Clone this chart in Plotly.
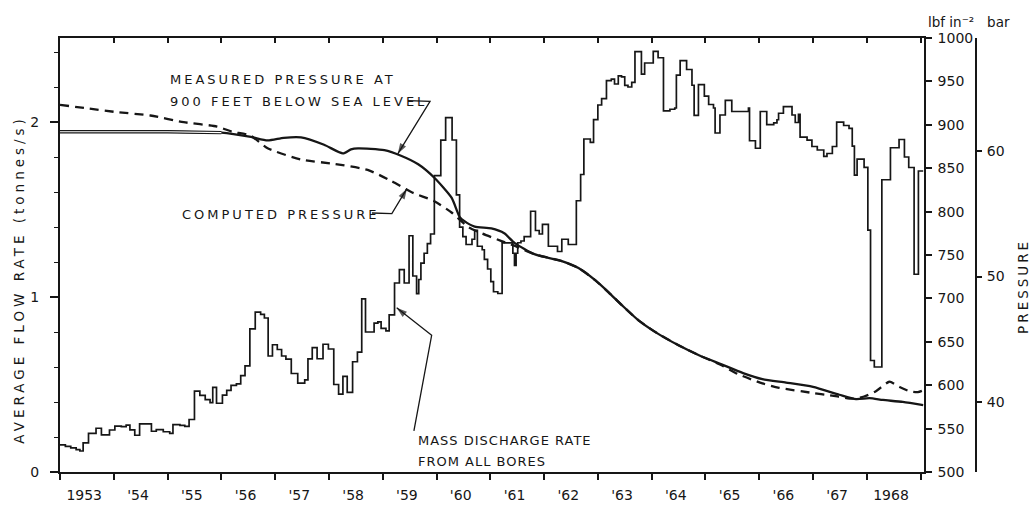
import plotly.graph_objects as go

# Mass discharge rate from all bores (tonnes/s); each value holds until the next date
flow_year = [
    1953.00, 1953.10, 1953.20, 1953.30, 1953.37, 1953.43, 1953.53, 1953.67, 1953.77, 1953.92,
    1954.02, 1954.14, 1954.23, 1954.30, 1954.39, 1954.48, 1954.70, 1954.79, 1954.92,
    1955.04, 1955.10, 1955.23, 1955.32, 1955.40, 1955.50, 1955.60, 1955.70, 1955.79, 1955.84, 1955.91,
    1956.02, 1956.10, 1956.18, 1956.28, 1956.36, 1956.44, 1956.53, 1956.63, 1956.73, 1956.80, 1956.87, 1956.95,
    1957.04, 1957.12, 1957.20, 1957.30, 1957.42, 1957.55, 1957.61, 1957.69, 1957.78, 1957.89, 1957.99,
    1958.09, 1958.18, 1958.26, 1958.34, 1958.44, 1958.53, 1958.61, 1958.68, 1958.84, 1958.91, 1958.97,
    1959.06, 1959.12, 1959.22, 1959.31, 1959.40, 1959.49, 1959.56, 1959.63, 1959.67, 1959.71, 1959.77,
    1959.83, 1959.89, 1959.96,
    1960.08, 1960.17, 1960.29, 1960.37, 1960.43, 1960.49, 1960.55, 1960.66, 1960.71, 1960.76, 1960.85,
    1960.89, 1960.95,
    1961.01, 1961.06, 1961.14, 1961.22, 1961.42, 1961.45, 1961.48, 1961.51, 1961.57, 1961.63, 1961.75,
    1961.84, 1961.91, 1961.97,
    1962.08, 1962.25, 1962.33, 1962.45, 1962.60, 1962.68, 1962.74, 1962.86, 1962.92,
    1963.00, 1963.07, 1963.16, 1963.25, 1963.31, 1963.38, 1963.44, 1963.50, 1963.56, 1963.63, 1963.69,
    1963.81, 1963.87,
    1964.03, 1964.12, 1964.22, 1964.34, 1964.43, 1964.46, 1964.53, 1964.65, 1964.75, 1964.79, 1964.87,
    1964.98, 1965.06, 1965.15, 1965.18, 1965.27, 1965.37, 1965.49, 1965.80, 1965.82, 1965.93,
    1966.02, 1966.14, 1966.27, 1966.33, 1966.36, 1966.45, 1966.61, 1966.67, 1966.73, 1966.76, 1966.89,
    1966.98, 1967.08, 1967.20, 1967.26, 1967.36, 1967.44, 1967.57, 1967.67, 1967.73, 1967.77, 1967.82,
    1967.95, 1968.02, 1968.07, 1968.14, 1968.28, 1968.44, 1968.60, 1968.70, 1968.78, 1968.88, 1968.96,
    1969.05,
]
flow_rate = [
    0.155, 0.147, 0.138, 0.128, 0.120, 0.167, 0.221, 0.250, 0.212, 0.240,
    0.262, 0.259, 0.268, 0.241, 0.210, 0.275, 0.233, 0.242, 0.230,
    0.221, 0.271, 0.266, 0.261, 0.300, 0.462, 0.438, 0.414, 0.396, 0.484, 0.393,
    0.439, 0.467, 0.495, 0.504, 0.551, 0.606, 0.818, 0.914, 0.901, 0.880, 0.663, 0.727,
    0.700, 0.663, 0.645, 0.563, 0.508, 0.526, 0.646, 0.711, 0.647, 0.730, 0.703,
    0.500, 0.445, 0.546, 0.455, 0.630, 0.685, 0.989, 0.800, 0.851, 0.858, 0.821,
    0.806, 0.898, 1.080, 1.157, 1.080, 1.350, 1.120, 1.019, 1.100, 1.194, 1.250,
    1.305, 1.360, 1.693,
    1.896, 2.025, 1.897, 1.584, 1.399, 1.345, 1.300, 1.330, 1.381, 1.290, 1.270,
    1.215, 1.160,
    1.088, 1.030, 1.020, 1.309, 1.250, 1.180, 1.250, 1.310, 1.320, 1.345, 1.490,
    1.380, 1.360, 1.415,
    1.290, 1.260, 1.330, 1.300, 1.550, 1.700, 1.903, 1.884, 2.014,
    2.097, 2.134, 2.236, 2.245, 2.217, 2.264, 2.258, 2.209, 2.200, 2.227, 2.402,
    2.273, 2.337,
    2.404, 2.367, 2.063, 2.073, 2.080, 2.268, 2.351, 2.300, 2.210, 2.038, 2.214,
    2.148, 2.100, 2.080, 1.937, 2.040, 2.124, 2.060, 2.080, 1.893, 1.850,
    2.060, 1.985, 1.995, 2.013, 2.050, 2.088, 2.040, 1.997, 2.043, 1.914, 1.896,
    1.860, 1.840, 1.804, 1.820, 1.860, 1.999, 1.980, 1.963, 1.862, 1.696, 1.788,
    1.741, 1.382, 0.637, 0.600, 1.670, 1.853, 1.900, 1.800, 1.740, 1.130, 1.720,
    1.720,
]

# Measured pressure at 900 feet below sea level (lbf/in^2)
meas_year = [
    1953.00, 1955.00, 1956.00, 1956.55, 1956.86, 1957.16, 1957.48, 1957.91, 1958.26, 1958.41,
    1958.54, 1959.03, 1959.34, 1959.66, 1959.96, 1960.28, 1960.43, 1960.52, 1960.71, 1961.02,
    1961.26, 1961.45, 1961.82, 1962.33, 1962.64, 1962.95, 1963.20, 1963.45, 1963.75, 1964.10,
    1964.50, 1964.90, 1965.30, 1965.70, 1966.06, 1966.50, 1967.00, 1967.49, 1967.80, 1968.05,
    1968.30, 1968.67, 1969.05,
]
meas_psi = [
    892, 892, 891, 886, 882, 885, 885.5, 877, 867, 871.6,
    872.8, 870.8, 864.4, 854.5, 839, 816, 794, 789, 782.6, 780.6,
    775, 764, 751, 743, 735, 721, 707, 692, 675, 660,
    646, 634, 624, 614, 607, 603, 598, 589, 584, 585,
    583, 580.7, 577,
]

# Computed pressure (lbf/in^2)
comp_year = [
    1953.00, 1953.50, 1954.00, 1954.68, 1955.30, 1955.92, 1956.20, 1956.54, 1956.86, 1957.48,
    1958.10, 1958.72, 1959.16, 1959.53, 1959.96, 1960.28, 1960.59, 1960.84, 1961.21, 1961.46,
    1961.82, 1962.33, 1962.64, 1962.95, 1963.20, 1963.45, 1963.75, 1964.10, 1964.50, 1964.90,
    1965.30, 1965.60, 1966.06, 1966.37, 1967.00, 1967.31, 1967.74, 1967.95, 1968.17, 1968.42,
    1968.61, 1968.80, 1968.95, 1969.05,
]
comp_psi = [
    923, 919, 915, 910.7, 903, 898, 892, 887.6, 873, 860,
    855, 848, 835.3, 822.5, 812, 799, 782.3, 775, 766, 760.5,
    751, 743, 735, 721, 707, 692, 675, 660, 646, 634,
    623, 613, 602, 597, 591, 588.4, 584.5, 587, 593, 604,
    598, 593, 592, 594,
]

years = list(range(1953, 1969))
year_labels = ["1953", "'54", "'55", "'56", "'57", "'58", "'59", "'60",
               "'61", "'62", "'63", "'64", "'65", "'66", "'67", "1968"]

INK = "#161616"
FONT = "DejaVu Sans"
X_RANGE = [1953.0, 1969.06]
N_DOUBLE = 3  # early flat readings drawn as a double (outlined) line


def spaced(text, ls=3):
    return f'<span style="letter-spacing:{ls}px">{text}</span>'


fig = go.Figure()

fig.add_trace(go.Scatter(
    x=flow_year, y=flow_rate, mode="lines", yaxis="y",
    line=dict(shape="hv", color=INK, width=1.7), showlegend=False, hoverinfo="skip",
))
fig.add_trace(go.Scatter(
    x=meas_year, y=meas_psi, mode="lines", yaxis="y2",
    line=dict(shape="spline", smoothing=0.6, color=INK, width=2.3), showlegend=False,
    hoverinfo="skip",
))
# double-line look of the early measured record
fig.add_trace(go.Scatter(
    x=meas_year[:N_DOUBLE], y=meas_psi[:N_DOUBLE], mode="lines", yaxis="y2",
    line=dict(color=INK, width=3.4), showlegend=False, hoverinfo="skip",
))
fig.add_trace(go.Scatter(
    x=meas_year[:N_DOUBLE], y=meas_psi[:N_DOUBLE], mode="lines", yaxis="y2",
    line=dict(color="white", width=1.1), showlegend=False, hoverinfo="skip",
))
fig.add_trace(go.Scatter(
    x=comp_year, y=comp_psi, mode="lines", yaxis="y2",
    line=dict(shape="spline", smoothing=0.6, color=INK, width=2.3, dash="9px,6px"),
    showlegend=False, hoverinfo="skip",
))

# leader lines ending in arrowheads (flow-axis units), one per label
leaders = [
    [(1959.47, 2.122), (1959.88, 2.118), (1959.28, 1.818)],
    [(1958.80, 1.480), (1959.17, 1.476), (1959.45, 1.619)],
    [(1959.58, 0.235), (1959.91, 0.781), (1959.26, 0.939)],
]
for path in leaders:
    xs = [p[0] for p in path]
    ys = [p[1] for p in path]
    sizes = [0] * (len(path) - 1) + [11]
    fig.add_trace(go.Scatter(
        x=xs, y=ys, mode="lines+markers", yaxis="y",
        line=dict(color=INK, width=1.3),
        marker=dict(symbol="arrow", angleref="previous", size=sizes, color=INK,
                    line=dict(width=0)),
        showlegend=False, hoverinfo="skip",
    ))

tick_font = dict(family=FONT, size=14, color=INK)

fig.update_layout(
    width=1034, height=515, autosize=False,
    margin=dict(l=60, r=58, t=38, b=28),
    paper_bgcolor="white", plot_bgcolor="white",
    font=dict(family=FONT, color=INK),
    xaxis=dict(
        domain=[0, 0.943], range=X_RANGE,
        tickmode="array", tickvals=[y + 0.45 for y in years], ticktext=year_labels,
        ticks="", ticklabelstandoff=9, tickfont=tick_font,
        minor=dict(tickmode="array", tickvals=years + [1969], ticks="outside",
                   ticklen=6, tickwidth=1.5, tickcolor=INK),
        showline=True, linecolor=INK, linewidth=2, showgrid=False, zeroline=False,
    ),
    xaxis2=dict(
        overlaying="x", side="top", anchor="y", range=X_RANGE,
        tickmode="array", tickvals=years + [1969], ticks="inside", ticklen=5,
        tickwidth=1.5, tickcolor=INK, showticklabels=False,
        showline=True, linecolor=INK, linewidth=1.6, showgrid=False, zeroline=False,
    ),
    yaxis=dict(
        range=[0, 2.48], tickmode="array", tickvals=[0, 1, 2],
        ticks="outside", ticklen=8, tickwidth=1.6, tickcolor=INK,
        ticklabelstandoff=8, tickfont=tick_font,
        minor=dict(tickmode="linear", tick0=0, dtick=0.2, ticks="outside",
                   ticklen=4, tickwidth=1.3, tickcolor=INK),
        showline=True, linecolor=INK, linewidth=2.2, showgrid=False, zeroline=False,
    ),
    yaxis2=dict(
        overlaying="y", side="right", anchor="x", range=[500, 1000],
        tickmode="linear", tick0=500, dtick=50,
        ticks="outside", ticklen=6, tickwidth=1.5, tickcolor=INK,
        ticklabelstandoff=3, tickfont=tick_font,
        showline=True, linecolor=INK, linewidth=2, showgrid=False, zeroline=False,
    ),
    yaxis3=dict(
        overlaying="y", side="right", anchor="free", position=1.0,
        range=[500 / 14.5038, 1000 / 14.5038], tickmode="array", tickvals=[40, 50, 60],
        ticks="outside", ticklen=5, tickwidth=1.5, tickcolor=INK,
        ticklabelstandoff=2, tickfont=tick_font,
        showline=True, linecolor=INK, linewidth=2, showgrid=False, zeroline=False,
    ),
)

# top border with inward year ticks, and the bar scale (no data of their own)
fig.add_trace(go.Scatter(x=[1953.0], y=[0], xaxis="x2", yaxis="y", mode="markers",
                         marker=dict(size=0, opacity=0), showlegend=False, hoverinfo="skip"))
fig.add_trace(go.Scatter(x=[1953.0], y=[40], yaxis="y3", mode="markers",
                         marker=dict(size=0, opacity=0), showlegend=False, hoverinfo="skip"))

text_font = dict(family=FONT, size=13, color=INK)

notes = [
    # (text, x, y, letter spacing)
    ("MEASURED PRESSURE AT", 0.118, 0.904, 3),
    ("900 FEET BELOW SEA LEVEL", 0.118, 0.853, 3),
    ("COMPUTED PRESSURE", 0.131, 0.594, 3),
    ("MASS DISCHARGE RATE", 0.389, 0.072, 1),
    ("FROM ALL BORES", 0.389, 0.025, 1),
]
for txt, x, y, ls in notes:
    fig.add_annotation(text=spaced(txt, ls), x=x, y=y, xref="paper", yref="paper",
                       xanchor="left", yanchor="middle", showarrow=False, font=text_font)

fig.add_annotation(text=spaced("AVERAGE FLOW RATE (tonnes/s)", 4), textangle=-90,
                   x=-0.045, y=0.445, xref="paper", yref="paper",
                   xanchor="center", yanchor="middle", showarrow=False,
                   font=dict(family=FONT, size=13.5, color=INK))
fig.add_annotation(text=spaced("PRESSURE", 3), textangle=-90,
                   x=1.052, y=0.428, xref="paper", yref="paper",
                   xanchor="center", yanchor="middle", showarrow=False,
                   font=dict(family=FONT, size=13.5, color=INK))
fig.add_annotation(text="lbf in⁻²   bar",
                   x=0.992, y=1.036, xref="paper", yref="paper",
                   xanchor="center", yanchor="middle", showarrow=False,
                   font=dict(family=FONT, size=13.5, color=INK))

fig.write_html("out.html")
